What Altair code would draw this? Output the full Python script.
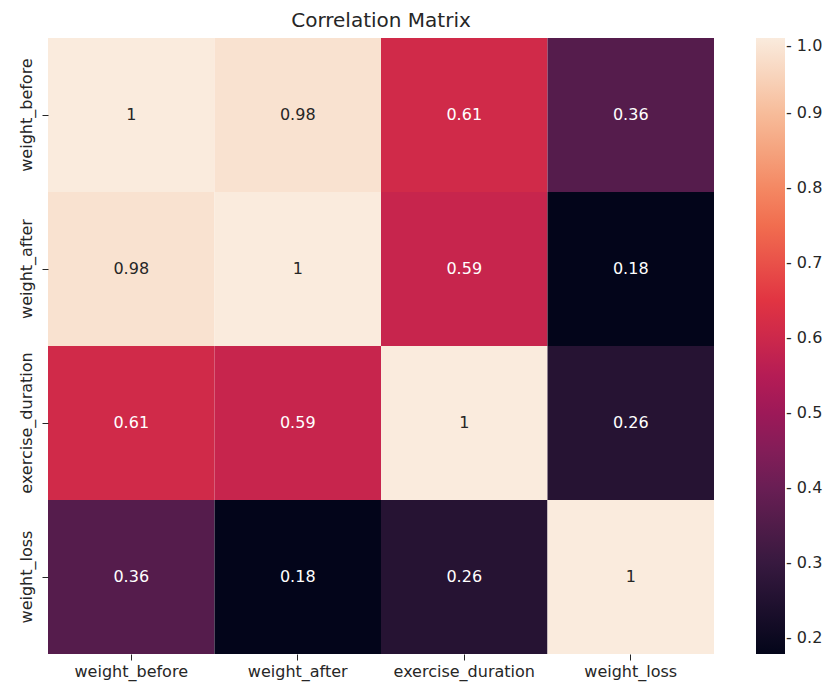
import altair as alt
import pandas as pd

# ---- data ----
variables = ["weight_before", "weight_after", "exercise_duration", "weight_loss"]
row_weight_before = [1.0, 0.98, 0.61, 0.36]
row_weight_after = [0.98, 1.0, 0.59, 0.179]
row_exercise_duration = [0.61, 0.59, 1.0, 0.26]
row_weight_loss = [0.36, 0.179, 0.26, 1.0]
matrix_rows = [row_weight_before, row_weight_after, row_exercise_duration, row_weight_loss]

colorbar_ticks = [0.2, 0.3, 0.4, 0.5, 0.6, 0.7, 0.8, 0.9, 1.0]

# seaborn "rocket" colormap stops (evenly spaced)
rocket = ["#03051a", "#35193e", "#701f57", "#ad1759",
          "#e13342", "#f37651", "#f6b48f", "#faebdd"]

records = []
for rname, row in zip(variables, matrix_rows):
    for cname, v in zip(variables, row):
        records.append({"row": rname, "col": cname, "value": v})
df = pd.DataFrame(records)

vmin = float(df["value"].min())
vmax = float(df["value"].max())
n = len(rocket)
stops = [vmin + (vmax - vmin) * i / (n - 1) for i in range(n)]

FONT = "DejaVu Sans"
INK = "#262626"

color_scale = alt.Scale(domain=stops, range=rocket, interpolate="rgb")

base = alt.Chart(df).encode(
    x=alt.X("col:N", sort=variables, title=None,
            scale=alt.Scale(paddingInner=0, paddingOuter=0),
            axis=alt.Axis(labelAngle=0, labelFontSize=16, labelFont=FONT,
                          labelColor=INK, tickColor=INK, tickSize=6,
                          tickWidth=1, domain=False, labelPadding=3,
                          grid=False)),
    y=alt.Y("row:N", sort=variables, title=None,
            scale=alt.Scale(paddingInner=0, paddingOuter=0),
            axis=alt.Axis(labelAngle=270, labelAlign="center",
                          labelBaseline="bottom", labelFontSize=16,
                          labelFont=FONT, labelColor=INK, tickColor=INK,
                          tickSize=6, tickWidth=1, domain=False,
                          labelPadding=8, grid=False)),
)

rects = base.mark_rect(strokeWidth=0).encode(
    color=alt.Color("value:Q", scale=color_scale,
                    legend=alt.Legend(
                        title=None, orient="none", legendX=708, legendY=0,
                        direction="vertical", gradientLength=616,
                        gradientThickness=29, gradientStrokeWidth=0,
                        values=colorbar_ticks, format=".1f",
                        labelExpr="'- ' + datum.label",
                        labelFontSize=16, labelFont=FONT, labelColor=INK,
                        labelOffset=1, labelBaseline="middle",
                        labelOverlap=False))
)

texts = base.mark_text(fontSize=16, font=FONT).encode(
    text=alt.Text("value:Q", format=".2~g"),
    color=alt.condition(alt.datum.value > 0.8, alt.value(INK), alt.value("white")),
)

chart = (rects + texts).properties(
    width=666,
    height=616,
    title=alt.TitleParams("Correlation Matrix", fontSize=20, font=FONT,
                          fontWeight="normal", color=INK, anchor="middle",
                          offset=7),
    autosize=alt.AutoSizeParams(type="none"),
    padding={"left": 40, "top": 30, "right": 112, "bottom": 33},
).configure_view(stroke=None)

chart.save("out.html", embed_options={"renderer": "svg", "actions": False})
